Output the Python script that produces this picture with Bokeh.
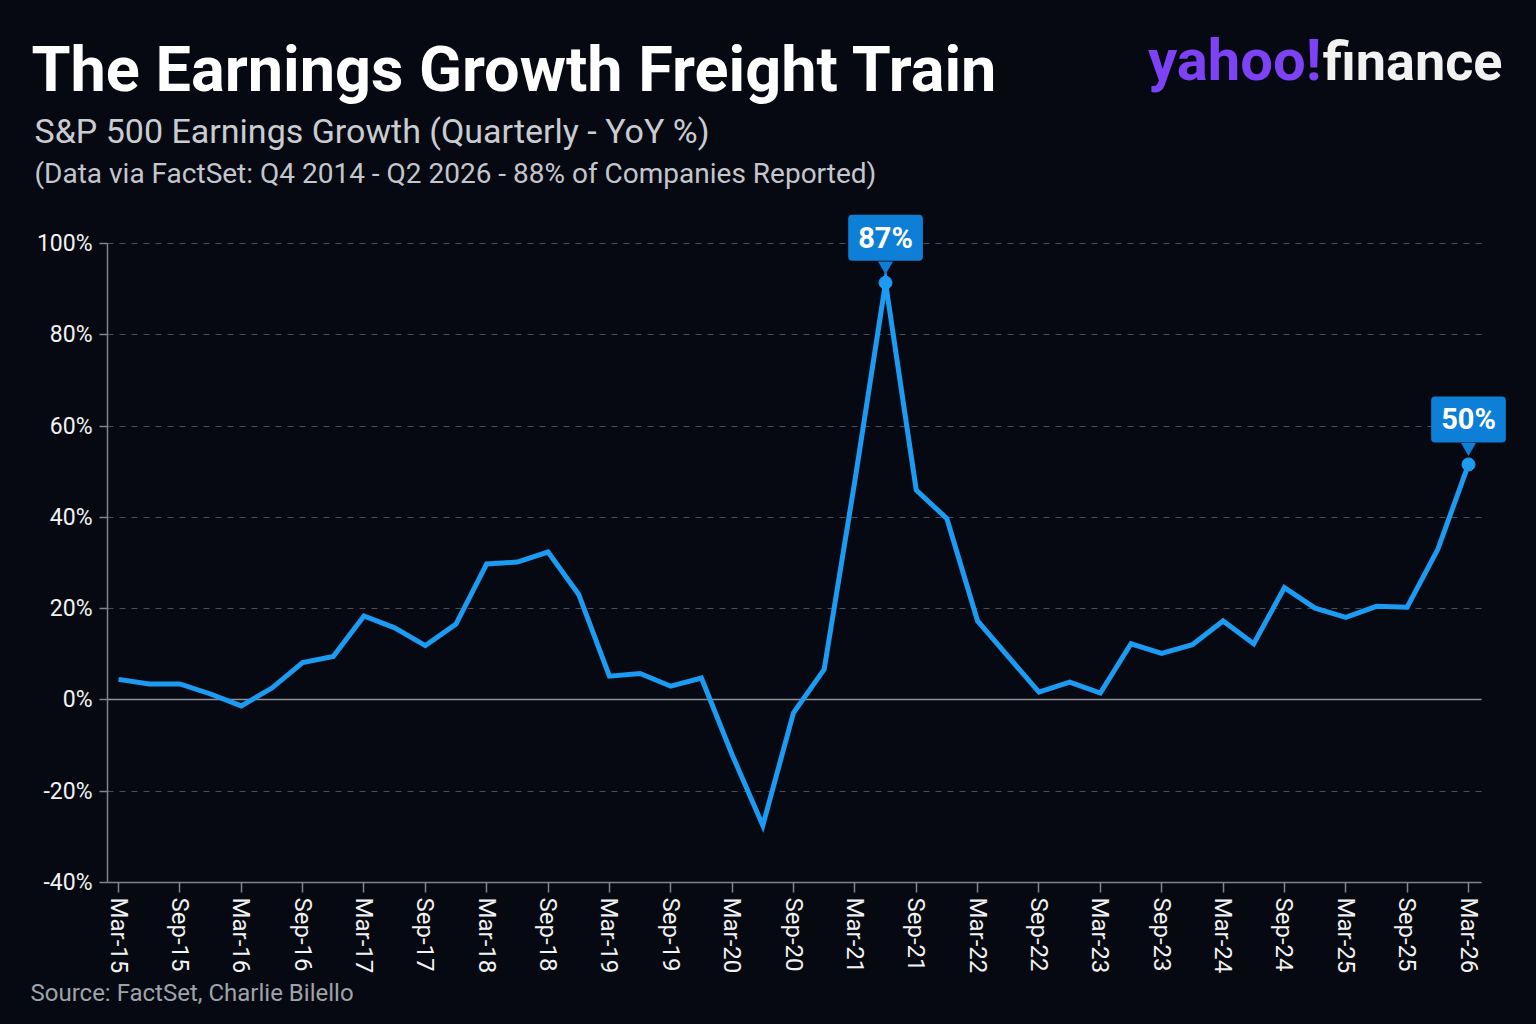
from bokeh.plotting import figure
from bokeh.models import Label, Range1d, FixedTicker, Grid, GlobalInlineStyleSheet
from bokeh.embed import file_html
from bokeh.resources import INLINE

# ---------------- data ----------------
quarters = ["Mar-15", "Jun-15", "Sep-15", "Dec-15",
            "Mar-16", "Jun-16", "Sep-16", "Dec-16",
            "Mar-17", "Jun-17", "Sep-17", "Dec-17",
            "Mar-18", "Jun-18", "Sep-18", "Dec-18",
            "Mar-19", "Jun-19", "Sep-19", "Dec-19",
            "Mar-20", "Jun-20", "Sep-20", "Dec-20",
            "Mar-21", "Jun-21", "Sep-21", "Dec-21",
            "Mar-22", "Jun-22", "Sep-22", "Dec-22",
            "Mar-23", "Jun-23", "Sep-23", "Dec-23",
            "Mar-24", "Jun-24", "Sep-24", "Dec-24",
            "Mar-25", "Jun-25", "Sep-25", "Dec-25",
            "Mar-26"]
growth = [4.5, 3.5, 3.5, 1.3, -1.3, 2.6, 8.2, 9.5, 18.4, 15.8, 11.9, 16.6,
          29.8, 30.2, 32.4, 23.1, 5.2, 5.8, 3.0, 4.8, -12.0, -27.5, -2.8, 6.7,
          48.0, 91.4, 46.0, 39.7, 17.3, 9.5, 1.7, 3.9, 1.5, 12.3, 10.2, 12.1,
          17.3, 12.3, 24.6, 20.1, 18.1, 20.5, 20.3, 33.0, 51.6]
y_ticks = [-40, -20, 0, 20, 40, 60, 80, 100]
y_tick_labels = ["-40%", "-20%", "0%", "20%", "40%", "60%", "80%", "100%"]
callout_texts = ["87%", "50%"]

title_text = "The Earnings Growth Freight Train"
subtitle_text = "S&P 500 Earnings Growth (Quarterly - YoY %)"
subtitle2_text = "(Data via FactSet: Q4 2014 - Q2 2026 - 88% of Companies Reported)"
source_text = "Source: FactSet, Charlie Bilello"
logo_parts = ["yahoo!", "finance"]

# ---------------- style / layout ----------------
BG = "#060911"
LINE = "#1b9bf1"
CALLOUT = "#0e7fd6"
AXIS = "#80858d"
GRID = "#4a4f58"
FONT = "Roboto"
W, H = 1536, 1024

X_FIRST_PX, X_LAST_PX = 118, 1468   # page x of first / last quarter
Y_TOP_PX, Y_BOT_PX = 243, 882       # page y of 100% / -40%
STEP = (X_LAST_PX - X_FIRST_PX) / 44.0
PPU = (Y_BOT_PX - Y_TOP_PX) / 140.0


def X(px):   # page pixel -> data x
    return (px - X_FIRST_PX) / STEP


def Y(py):   # page pixel -> data y
    return 100 - (py - Y_TOP_PX) / PPU


def py_of(v):
    return Y_TOP_PX + (100 - v) * PPU


AX_LEFT, AX_RIGHT = X(107), X(1481)

p = figure(width=W, height=H, output_backend="svg", toolbar_location=None,
           x_range=Range1d(X(0), X(W)), y_range=Range1d(Y(H), Y(0)), min_border=0)
p.stylesheets = [GlobalInlineStyleSheet(css=f"html, body {{ background: {BG}; }}")]
p.background_fill_color = BG
p.border_fill_color = BG
p.outline_line_color = None

# grid
p.xgrid.grid_line_color = None
p.ygrid.grid_line_color = GRID
p.ygrid.grid_line_dash = "6 6"
p.ygrid.grid_line_width = 1
p.ygrid.ticker = FixedTicker(ticks=[t for t in y_ticks if t != 0])
p.ygrid.cross_bounds = (AX_LEFT, AX_RIGHT)
p.add_layout(Grid(dimension=1, ticker=FixedTicker(ticks=[0]), grid_line_color="#8e9299",
                  grid_line_width=1.5, cross_bounds=(AX_LEFT, AX_RIGHT)))

# axes (kept in their side panels, drawn at fixed positions)
xs = list(range(len(quarters)))
p.yaxis.fixed_location = AX_LEFT
p.yaxis.bounds = (y_ticks[0], y_ticks[-1])
p.yaxis.ticker = FixedTicker(ticks=y_ticks)
p.yaxis.major_label_overrides = {t: l for t, l in zip(y_ticks, y_tick_labels)}
p.xaxis.fixed_location = y_ticks[0]
p.xaxis.bounds = (AX_LEFT, AX_RIGHT)
p.xaxis.ticker = FixedTicker(ticks=xs[::2])
p.xaxis.major_label_overrides = {i: quarters[i] for i in xs[::2]}
p.xaxis.major_label_orientation = "vertical"
for ax in (p.xaxis, p.yaxis):
    ax.axis_line_color = AXIS
    ax.axis_line_width = 1.5
    ax.major_tick_line_color = AXIS
    ax.major_tick_line_width = 1.5
    ax.major_tick_in = 0
    ax.minor_tick_line_color = None
    ax.major_label_text_color = "#f2f2f2"
    ax.major_label_text_font = FONT
p.yaxis.major_tick_out = 8
p.yaxis.major_label_standoff = 7
p.yaxis.major_label_text_font_size = "23px"
p.xaxis.major_tick_out = 10
p.xaxis.major_label_standoff = 5
p.xaxis.major_label_text_font_size = "24px"

# series
p.line(xs, growth, line_color=LINE, line_width=5, line_join="miter")

peak_i = growth.index(max(growth))
last_i = len(growth) - 1
mark_i = [peak_i, last_i]
mark_v = [growth[i] for i in mark_i]
p.scatter(mark_i, mark_v, size=13, color=LINE)
p.scatter(mark_i, [Y(py_of(v) - 17) for v in mark_v], marker="inverted_triangle",
          size=15, color=CALLOUT, line_color=None)
for i, v, t in zip(mark_i, mark_v, callout_texts):
    p.add_layout(Label(x=i, y=Y(py_of(v) - 45), text=t, text_align="center",
                       text_baseline="middle", text_font=FONT, text_font_style="bold",
                       text_font_size="29px", text_color="white",
                       background_fill_color=CALLOUT, border_radius=4,
                       padding=dict(left=10, right=10, top=6, bottom=6)))


# texts (py = wanted baseline on the page)
def add_text(txt, px, py, size, color, style="normal", align="left"):
    shift = 0.36 * size
    p.add_layout(Label(x=X(px), y=Y(py - shift), text=txt, text_align=align,
                       text_baseline="alphabetic", text_font=FONT,
                       text_font_style=style, text_font_size=f"{size}px",
                       text_color=color))


add_text(title_text, 31, 92, 63, "#ffffff", "bold")
add_text(subtitle_text, 34, 143, 34, "#c9ccd1")
add_text(subtitle2_text, 34, 183, 28, "#c3c6cc")
add_text(source_text, 30, 1001, 24, "#9ea3aa")
add_text(logo_parts[0], 1321, 80, 58, "#7d42f5", "bold", "right")
add_text(logo_parts[1], 1502, 80, 54, "#f2f2f2", "bold", "right")

open("out.html", "w").write(file_html(p, INLINE))
